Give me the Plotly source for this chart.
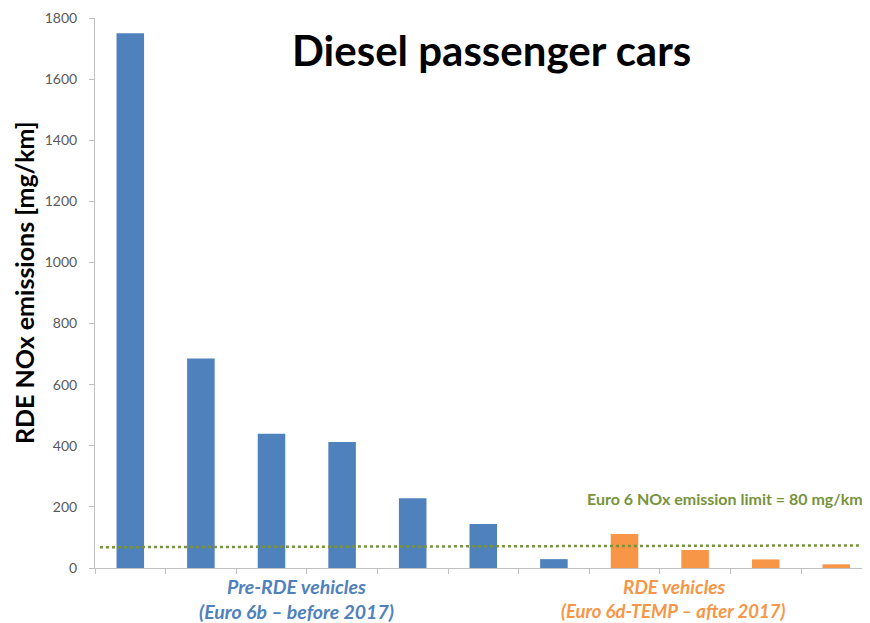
import plotly.graph_objects as go

# Data
vehicles = list(range(11))
pre_rde_values = [1750, 686, 439, 412, 228, 144, 29]
rde_values = [111, 59, 28, 12]
limit_x_ends = [-0.43, 10.42]
limit_y_ends = [68, 74]
y_ticks = [0, 200, 400, 600, 800, 1000, 1200, 1400, 1600, 1800]

BLUE = "#4F81BD"
ORANGE = "#F79646"
GREEN = "#77933C"
FONT = "Lato, 'Open Sans', sans-serif"

pre_x = vehicles[:len(pre_rde_values)]
rde_x = vehicles[len(pre_rde_values):]

# page body adds an 8px offset; plot area on screen: x 95..(878), y 18..568
PLOT_W = 783
def px(X):
    return (X - 95) / PLOT_W
def py(Y):
    return (568 - Y) / 550

fig = go.Figure()
fig.add_trace(go.Bar(x=pre_x, y=pre_rde_values, marker_color=BLUE, width=0.39,
                     marker_line_width=0, name="Pre-RDE"))
fig.add_trace(go.Bar(x=rde_x, y=rde_values, marker_color=ORANGE, width=0.39,
                     marker_line_width=0, name="RDE"))
fig.add_trace(go.Scatter(x=limit_x_ends, y=limit_y_ends, mode="lines",
                         line=dict(color=GREEN, width=2.5, dash="dot"),
                         name="Euro 6 limit"))

fig.update_layout(
    width=870, height=623,
    margin=dict(l=87, r=0, t=10, b=63),
    paper_bgcolor="white", plot_bgcolor="white",
    showlegend=False,
    font=dict(family=FONT, color="#595959"),
    xaxis=dict(range=[-0.5, -0.5 + PLOT_W / 70.6], showgrid=False, zeroline=False,
               tickmode="array", tickvals=[i - 0.5 for i in vehicles],
               ticktext=["" for _ in vehicles],
               ticks="outside", ticklen=5, tickcolor="#BFBFBF",
               showline=True, linecolor="#BFBFBF", linewidth=1),
    yaxis=dict(range=[0, 1800], showgrid=False, zeroline=False,
               tickmode="array", tickvals=y_ticks,
               ticks="outside", ticklen=5, tickcolor="#BFBFBF",
               showline=True, linecolor="#BFBFBF", linewidth=1,
               tickfont=dict(size=14, color="#595959"),
               ticklabelstandoff=9),
)

def ann(text, X, Y, size, color, **kw):
    d = dict(text=text, x=px(X), y=py(Y), xref="paper", yref="paper",
             xanchor="center", yanchor="middle", showarrow=False,
             font=dict(size=size, color=color, family=FONT))
    d.update(kw)
    return d

annotations = [
    ann("<b>Diesel passenger cars</b>", 491, 50, 42, "black"),
    ann("<b>RDE NOx emissions [mg/km]</b>", 24, 283, 25, "black", textangle=-90),
    ann("<b>Euro 6 NOx emission limit = 80 mg/km</b>", 865, 498, 16, GREEN,
        xanchor="right"),
    ann("<b><i>Pre-RDE vehicles</i></b>", 296, 586, 19.5, BLUE),
    ann("<b><i>(Euro 6b \u2013 before 2017)</i></b>", 296, 611, 19.5, BLUE),
    ann("<b><i>RDE vehicles</i></b>", 674, 586, 19, ORANGE),
    ann("<b><i>(Euro 6d-TEMP \u2013 after 2017)</i></b>", 673, 611, 18.5, ORANGE),
]
fig.update_layout(annotations=annotations)

fig.write_html("out.html")
